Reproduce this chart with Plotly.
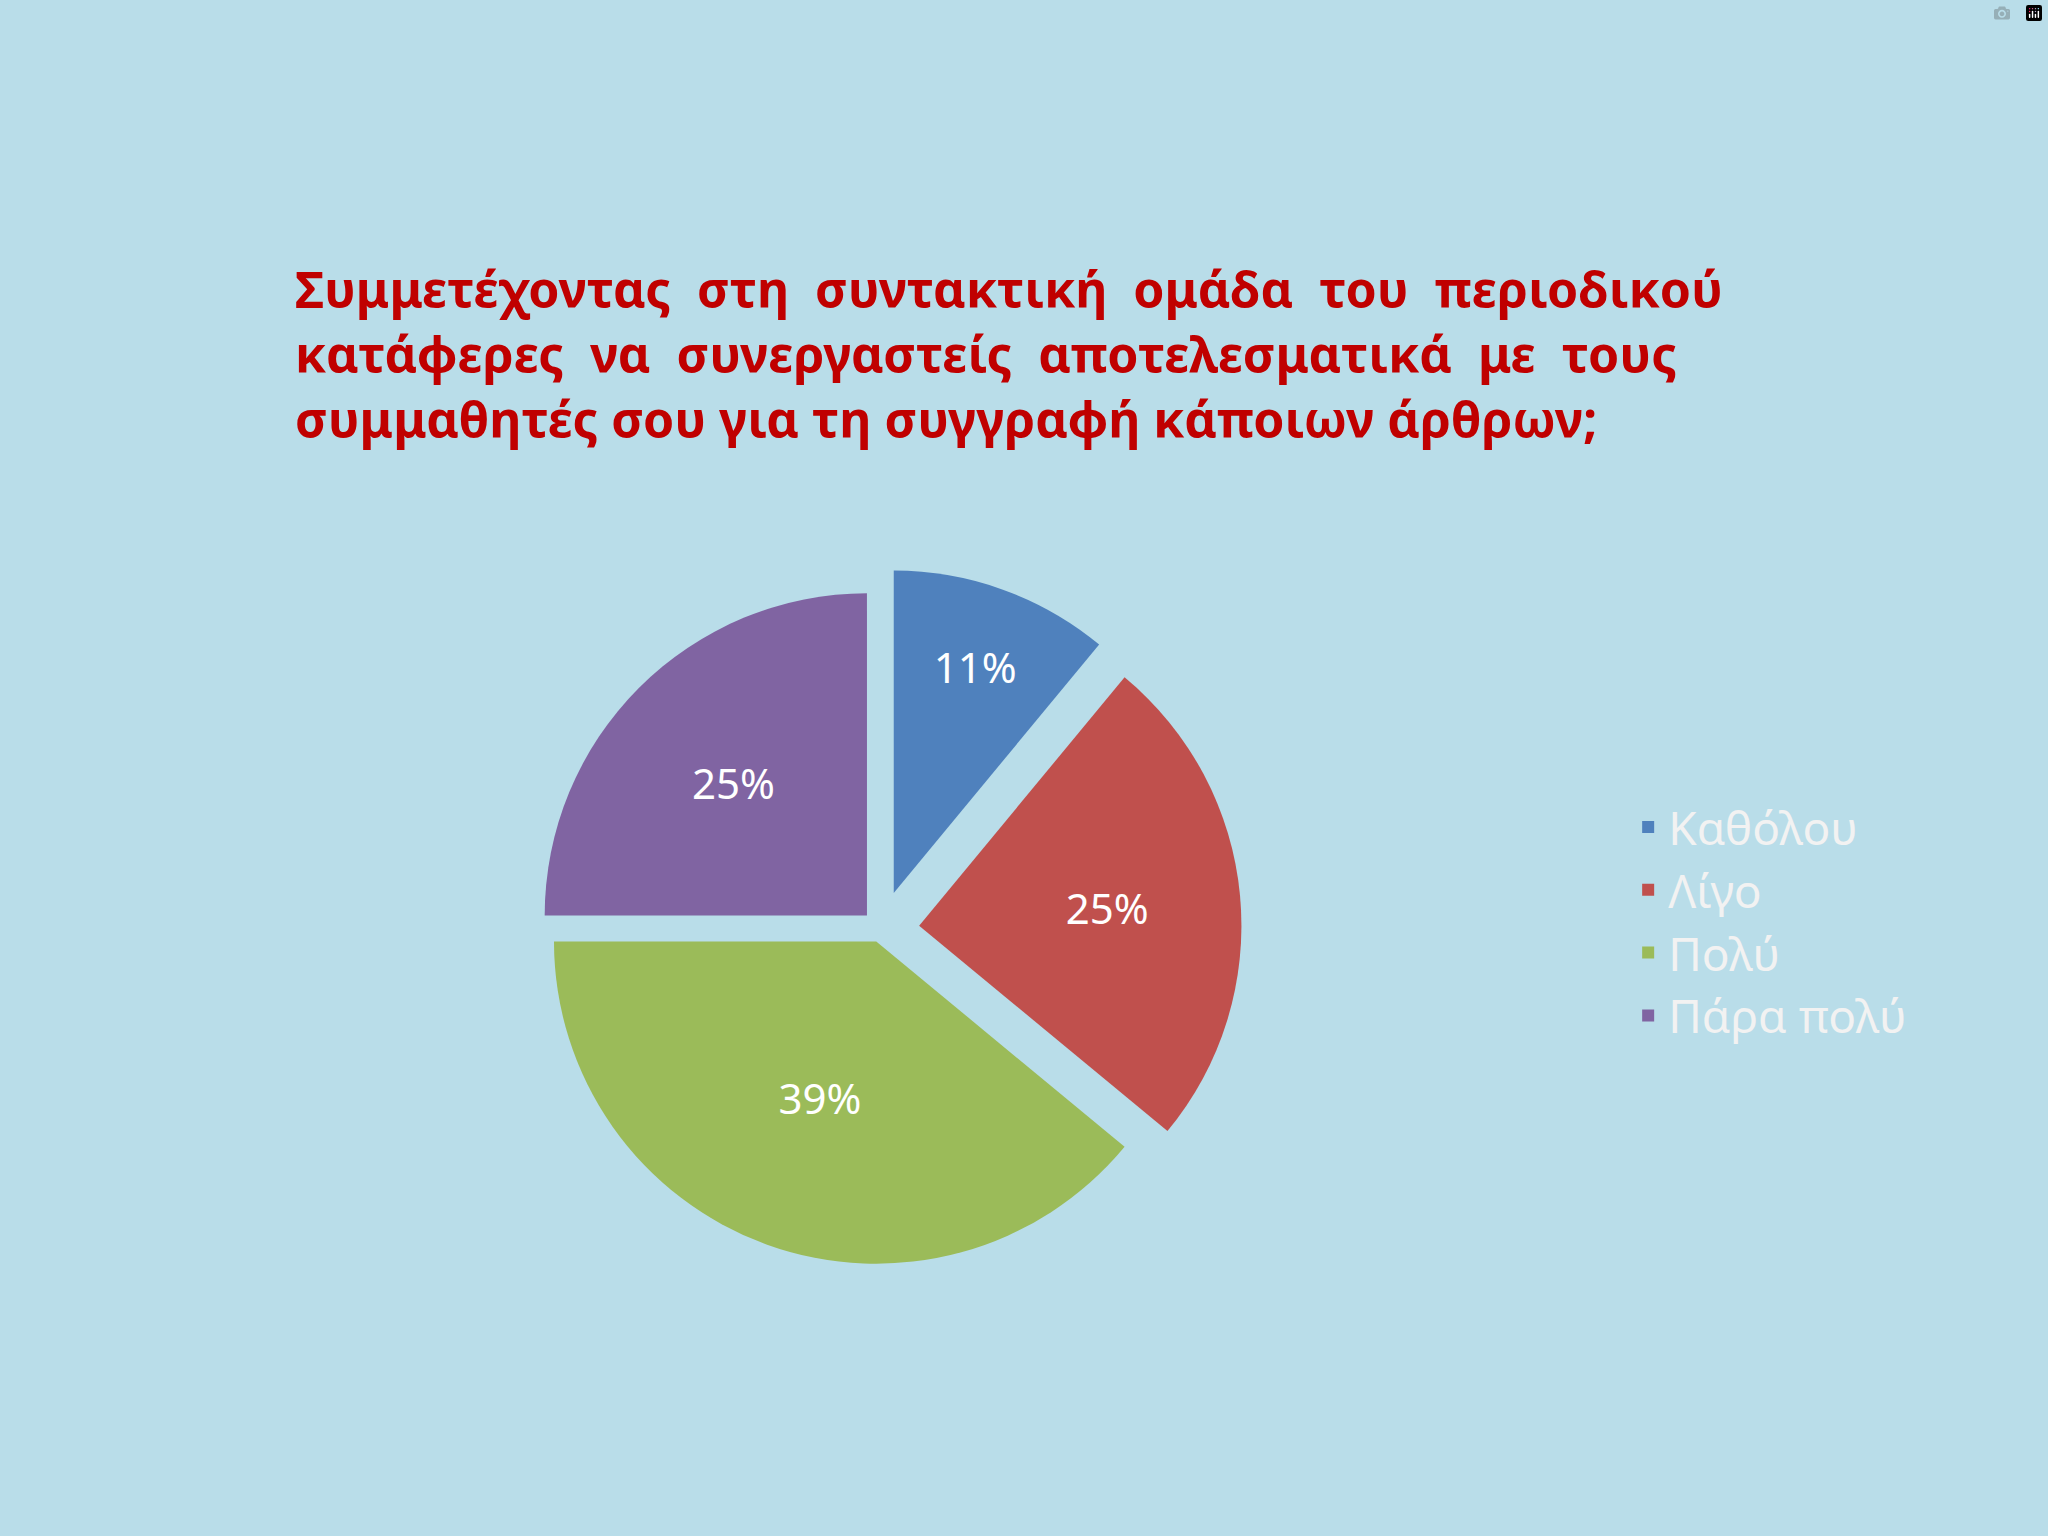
import plotly.graph_objects as go

labels = ["Καθόλου", "Λίγο", "Πολύ", "Πάρα πολύ"]
values = [11, 25, 39, 25]
colors = ["#4f81bd", "#c0504d", "#9bbb59", "#8064a2"]

title_lines = [
    "Συμμετέχοντας  στη  συντακτική  ομάδα  του  περιοδικού",
    "κατάφερες  να  συνεργαστείς  αποτελεσματικά  με  τους",
    "συμμαθητές σου για τη συγγραφή κάποιων άρθρων;",
]

fig = go.Figure()
fig.add_trace(go.Pie(
    labels=labels, values=values, sort=False, direction="clockwise", rotation=0,
    marker=dict(colors=colors, line=dict(color="#b9dde9", width=0)),
    pull=[0.12, 0.12, 0.04, 0.06],
    textinfo="percent", textposition="inside", insidetextorientation="horizontal",
    textfont=dict(color="white", size=42, family="Noto Sans"),
    domain=dict(x=[0.13, 0.73], y=[0.16, 0.63]),
))

fig.add_annotation(
    text="<br>".join(title_lines), xref="paper", yref="paper",
    x=0.143, y=0.835, xanchor="left", yanchor="top", align="left", showarrow=False,
    font=dict(family="Noto Sans", size=50, color="#c00000", weight="bold"),
)

fig.update_layout(
    width=2048, height=1536,
    paper_bgcolor="#b9dde9", plot_bgcolor="#b9dde9",
    margin=dict(l=0, r=0, t=0, b=0),
    legend=dict(x=0.795, y=0.40, xanchor="left", yanchor="middle",
                font=dict(family="Noto Sans", size=46, color="#f2f2f2")),
)

fig.write_html("out.html", post_script="document.body.style.margin='0';document.body.style.background='#b9dde9';")
